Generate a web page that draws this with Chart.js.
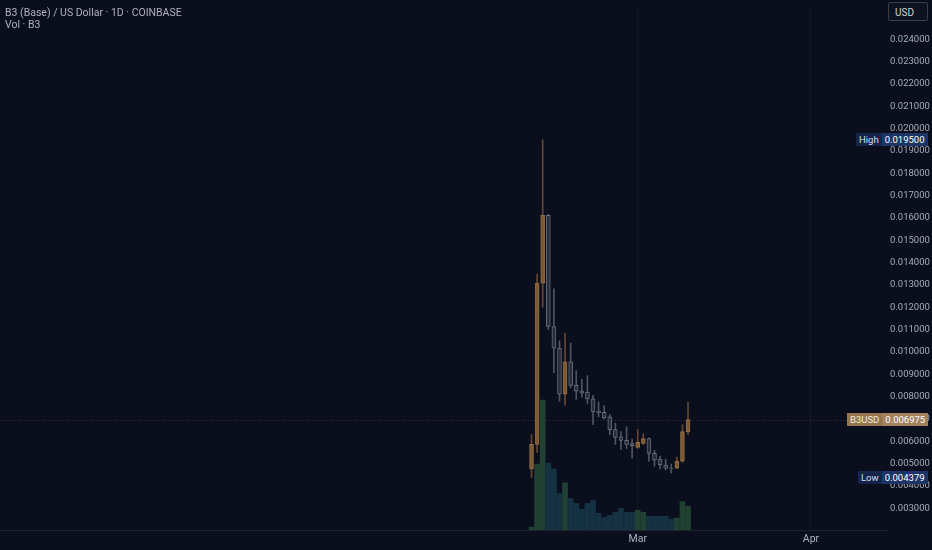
<!DOCTYPE html>
<html>
<head>
<meta charset="utf-8">
<script src="https://cdn.jsdelivr.net/npm/chart.js@4.4.1/dist/chart.umd.min.js"></script>
<style>
  html, body { margin:0; padding:0; background:#0b0f1d; }
  #wrap { position:relative; width:932px; height:550px; overflow:hidden; font-family:Roboto, "Noto Sans", sans-serif; }
  canvas { position:absolute; left:0; top:0; }
  .title { position:absolute; left:5px; color:#aeb1ba; font-size:10.5px; white-space:nowrap; }
  .usd { position:absolute; left:888px; top:2px; height:19px; border:1px solid #3a3e4a; border-radius:2px;
         background:#0d1221; color:#d1d4dc; font-size:10px; line-height:19px; padding-left:6px; box-sizing:border-box; width:40px; }
  .tag { position:absolute; height:13px; line-height:13px; font-size:9.5px; white-space:nowrap; }
  .tag span { display:inline-block; padding:0 3px; }
</style>
</head>
<body>
<div id="wrap">
  <canvas id="priceChart" width="932" height="550"></canvas>
  <div class="title" style="top:6px;">B3 (Base) / US Dollar · 1D · COINBASE</div>
  <div class="title" style="top:18px;">Vol · B3</div>
  <div class="usd">USD</div>
  <div class="tag" id="tag-high"><span style="background:#14244a;color:#d8def0;">High</span><span style="background:#1c3466;color:#fff;">0.019500</span></div>
  <div class="tag" id="tag-last"><span style="background:#947550;color:#f4ece0;">B3USD</span><span style="background:#a2825a;color:#fff;">0.006975</span></div>
  <div class="tag" id="tag-low"><span style="background:#14244a;color:#d8def0;">Low</span><span style="background:#1c3466;color:#fff;">0.004379</span></div>
</div>
<script>
// ── DATA (daily candles, 10 Feb → 10 Mar) ──
const dates = [
  '02-10','02-11','02-12','02-13','02-14','02-15','02-16','02-17','02-18','02-19',
  '02-20','02-21','02-22','02-23','02-24','02-25','02-26','02-27','02-28','03-01',
  '03-02','03-03','03-04','03-05','03-06','03-07','03-08','03-09','03-10'
];
const opens  = [0.00476,0.00586,0.01308,0.01612,0.01114,0.01017,0.00811,0.00956,0.00850,0.00826,
                0.00820,0.00790,0.00735,0.00730,0.00709,0.00652,0.00620,0.00604,0.00590,0.00573,
                0.00590,0.00612,0.00546,0.00520,0.00494,0.00480,0.00480,0.00511,0.00643];
const highs  = [0.00630,0.01348,0.01950,0.01615,0.01282,0.01050,0.01084,0.01040,0.00916,0.00877,
                0.00894,0.00806,0.00775,0.00760,0.00720,0.00680,0.00643,0.00665,0.00610,0.00652,
                0.00634,0.00616,0.00560,0.00533,0.00520,0.00498,0.00529,0.00674,0.00775];
const lows   = [0.004379,0.00550,0.01200,0.01100,0.00907,0.00780,0.00762,0.00840,0.00789,0.00797,
                0.00770,0.00674,0.00709,0.00700,0.00630,0.00586,0.00564,0.00568,0.00524,0.00568,
                0.00586,0.00511,0.00489,0.00476,0.00472,0.00458,0.00478,0.00505,0.00630];
const closes = [0.00586,0.01308,0.01612,0.01114,0.01017,0.00811,0.00956,0.00850,0.00824,0.00815,
                0.00790,0.00731,0.00728,0.00705,0.00652,0.00617,0.00604,0.00586,0.00580,0.00595,
                0.00612,0.00546,0.00516,0.00494,0.00480,0.00478,0.00511,0.00643,0.006975];
const volumes = [1.5,33.5,66,34,31,18.5,24,16,13.5,10.5,
                 13.5,15,8.5,6.5,7.5,9,11,9,9,10,
                 9,7,7,7,7,5.5,6,14.5,12];   // millions (est.)

const priceTicks = [0.003,0.004,0.005,0.006,0.007,0.008,0.009,0.010,0.011,0.012,0.013,0.014,
                    0.015,0.016,0.017,0.018,0.019,0.020,0.021,0.022,0.023,0.024];
const timeTicks  = [{ value: 19, label: 'Mar' }, { value: 50, label: 'Apr' }];

const highValue = 0.0195;
const lowValue  = 0.004379;
const lastValue = closes[closes.length - 1];

// ── COLOURS ──
const isUp = closes.map((c, i) => c >= opens[i]);
const bodyFill   = isUp.map(u => u ? 'rgba(128,92,52,0.8)' : 'rgba(38,43,56,0.95)');
const bodyBorder = isUp.map(u => u ? 'rgba(170,124,72,0.8)' : 'rgba(128,134,146,0.75)');
const wickColor  = isUp.map(u => u ? 'rgba(112,76,54,0.9)' : 'rgba(96,102,114,0.8)');
const volColor   = isUp.map(u => u ? 'rgba(38,74,54,0.85)' : 'rgba(24,56,74,0.85)');

const idx = dates.map((d, i) => i);

// ── PRICE LINE PLUGIN ──
const lastLine = {
  id: 'lastLine',
  beforeDatasetsDraw(chart) {
    const { ctx, chartArea, scales } = chart;
    const y = Math.round(scales.y.getPixelForValue(lastValue)) + 0.5;
    ctx.save();
    ctx.strokeStyle = 'rgba(190,150,100,0.25)';
    ctx.lineWidth = 1;
    ctx.setLineDash([1, 2]);
    ctx.beginPath();
    ctx.moveTo(chartArea.left, y);
    ctx.lineTo(chartArea.right, y);
    ctx.stroke();
    ctx.restore();
  }
};

// ── CHART ──
const ctx = document.getElementById('priceChart').getContext('2d');
const chart = new Chart(ctx, {
  type: 'bar',
  data: {
    datasets: [
      {
        label: 'Volume',
        data: idx.map(i => ({ x: i, y: volumes[i] })),
        yAxisID: 'yVol',
        backgroundColor: volColor,
        barThickness: 5,
        grouped: false,
        order: 3,
      },
      {
        label: 'Wick',
        data: idx.map(i => ({ x: i, y: [lows[i], highs[i]] })),
        yAxisID: 'y',
        backgroundColor: wickColor,
        barThickness: 1,
        grouped: false,
        order: 2,
      },
      {
        label: 'Body',
        data: idx.map(i => ({ x: i, y: [opens[i], closes[i]] })),
        yAxisID: 'y',
        backgroundColor: bodyFill,
        borderColor: bodyBorder,
        borderWidth: 1,
        borderSkipped: false,
        barThickness: 4,
        grouped: false,
        order: 1,
      }
    ]
  },
  options: {
    responsive: false,
    animation: false,
    layout: { padding: 0 },
    plugins: { legend: { display: false }, tooltip: { enabled: false } },
    scales: {
      x: {
        type: 'linear',
        position: 'bottom',
        min: -95.1,
        max: 63.6,
        offset: false,
        afterBuildTicks: s => { s.ticks = timeTicks.map(t => ({ value: t.value })); },
        afterFit: s => { s.height = 20; },
        ticks: {
          color: '#aeb2bc',
          font: { family: 'Roboto', size: 10.5 },
          padding: 3,
          maxRotation: 0,
          callback: v => (timeTicks.find(t => t.value === v) || {}).label || ''
        },
        grid: { color: 'rgba(255,255,255,0.035)', drawTicks: false, offset: false },
        border: { color: 'rgba(255,255,255,0.08)' }
      },
      y: {
        type: 'linear',
        position: 'right',
        min: 0.002029,
        max: 0.025365,
        afterBuildTicks: s => { s.ticks = priceTicks.map(v => ({ value: v })); },
        afterFit: s => { s.width = 45; },
        ticks: {
          color: '#a8acb6',
          font: { family: 'Roboto', size: 9.5 },
          padding: 3,
          callback: v => v.toFixed(6)
        },
        grid: { display: false, drawTicks: false },
        border: { display: false }
      },
      yVol: {
        type: 'linear',
        display: false,
        min: 0,
        max: 265
      }
    }
  },
  plugins: [lastLine]
});

// ── PRICE TAGS ──
function placeTag(id, value) {
  const el = document.getElementById(id);
  const y = chart.scales.y.getPixelForValue(value);
  el.style.top = Math.round(y - 6.5) + 'px';
  el.style.left = (928 - el.offsetWidth) + 'px';
}
placeTag('tag-high', highValue);
placeTag('tag-last', lastValue);
placeTag('tag-low', lowValue);
</script>
</body>
</html>
